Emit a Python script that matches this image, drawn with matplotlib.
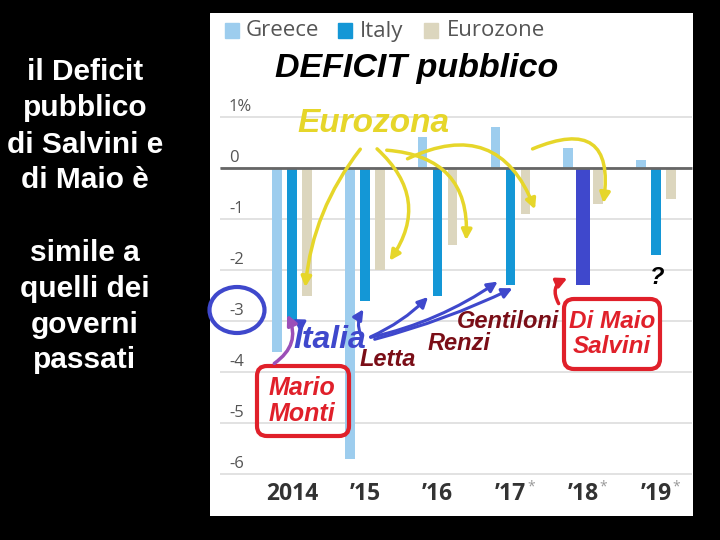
import numpy as np
import matplotlib.pyplot as plt
from matplotlib.patches import FancyBboxPatch, Ellipse, FancyArrowPatch, Rectangle

# ---------------- data ----------------
YEARS     = ["2014", "\u201915", "\u201916", "\u201917", "\u201918", "\u201919"]
STARRED   = [False, False, False, True, True, True]
GREECE    = [-3.6, -5.7, 0.6, 0.8, 0.4, 0.15]
ITALY     = [-3.0, -2.6, -2.5, -2.3, -2.3, -1.7]
EUROZONE  = [-2.5, -2.0, -1.5, -0.9, -0.7, -0.6]
Y_TICKS   = [1, 0, -1, -2, -3, -4, -5, -6]
Y_LABELS  = ["1%", "0", "-1", "-2", "-3", "-4", "-5", "-6"]
SERIES    = ["Greece", "Italy", "Eurozone"]

LEFT_TEXT = ["il Deficit", "pubblico", "di Salvini e", "di Maio \u00e8", "",
             "simile a", "quelli dei", "governi", "passati"]

# ---------------- style ----------------
C_GREECE = "#9DCDEE"
C_ITALY  = "#1497D6"
C_EURO   = "#DCD6BE"
C_ITALY18 = "#3F48CC"
C_YELLOW = "#E6D62A"
C_BLUE   = "#3F48CC"
C_RED    = "#E0202A"
C_DARKRED = "#7A0E17"
C_PURPLE = "#9B4FB8"

W, H = 720, 540
fig = plt.figure(figsize=(7.2, 5.4), dpi=100, facecolor="black")

# chart panel (white)
px0, px1, py0, py1 = 210, 693, 13, 516
ax = fig.add_axes([px0 / W, 1 - py1 / H, (px1 - px0) / W, (py1 - py0) / H])
ax.set_facecolor("white")
GX, GS = 292, 72.8      # pixel of first group, pixels per group
YZ, YS = 168, 51        # pixel of zero line, pixels per unit
ax.set_xlim((px0 - GX) / GS, (px1 - GX) / GS)
ax.set_ylim((YZ - py1) / YS, (YZ - py0) / YS)
ax.axis("off")
ax.add_patch(Rectangle((0, 0), 1, 1, transform=ax.transAxes, color="white", zorder=0))

x = np.arange(len(YEARS))
bw, off = 0.13, 0.206
gx0, gx1 = (220 - GX) / GS, (692 - GX) / GS

for t in Y_TICKS:
    ax.hlines(t, gx0, gx1, color="#dddddd", lw=1.2, zorder=1)
ax.hlines(0, gx0, gx1, color="#666666", lw=2, zorder=3)

ax.bar(x - off, GREECE, bw, color=C_GREECE, zorder=2)
italy_cols = [C_ITALY] * len(YEARS)
italy_cols[4] = C_ITALY18
widths = [bw] * len(YEARS)
widths[4] = 0.19
ax.bar(x, ITALY, widths, color=italy_cols, zorder=2)
ax.bar(x + off, EUROZONE, bw, color=C_EURO, zorder=2)

for t, lab in zip(Y_TICKS, Y_LABELS):
    ax.text((229 - GX) / GS, t + 0.2, lab, ha="left", va="center",
            fontsize=12, color="#555555", family="Open Sans", zorder=4)

for xi, lab, star in zip(x, YEARS, STARRED):
    ax.text(xi, (YZ - 494) / YS, lab, ha="center", va="center",
            fontsize=16.5, color="#333333", family="Open Sans", weight="bold")
    if star:
        ax.text(xi + 0.28, (YZ - 487) / YS, "*", ha="center", va="center",
                fontsize=10, color="#999999", family="Open Sans")

# ---------------- overlay in pixel coords ----------------
ov = fig.add_axes([0, 0, 1, 1], facecolor="none")
ov.set_xlim(0, W)
ov.set_ylim(H, 0)
ov.axis("off")

# left text
ys = [72, 108, 145, 180, 216, 253, 289, 325, 360]
for yy, line in zip(ys, LEFT_TEXT):
    ov.text(85, yy, line, ha="center", va="center", color="white",
            fontsize=21.5, family="Liberation Sans", weight="bold")

# legend
leg_x = [(225, 246), (338, 360), (424, 447)]
for (sx, tx_), name, col in zip(leg_x, SERIES, [C_GREECE, C_ITALY, C_EURO]):
    ov.add_patch(Rectangle((sx, 23), 14, 15, color=col))
    ov.text(tx_, 31, name, ha="left", va="center", fontsize=16,
            color="#555555", family="Open Sans")

ov.text(275, 68, "DEFICIT pubblico", ha="left", va="center", fontsize=24.5,
        family="Liberation Sans", weight="bold", style="italic", color="black")
ov.text(297, 123, "Eurozona", ha="left", va="center", fontsize=24,
        family="Liberation Sans", weight="bold", style="italic", color=C_YELLOW)

# hand-drawn arrows
def arrow(p0, p1, col, rad, lw=2.5, hw=6):
    a = FancyArrowPatch(p0, p1, connectionstyle=f"arc3,rad={rad}",
                        arrowstyle=f"-|>,head_width={hw/2},head_length={hw}",
                        color=col, lw=lw, zorder=5)
    ov.add_patch(a)

arrow((362, 147), (305, 290), C_YELLOW, 0.15)
arrow((375, 147), (388, 263), C_YELLOW, -0.45)
arrow((384, 150), (466, 243), C_YELLOW, -0.5)
arrow((405, 160), (536, 212), C_YELLOW, -0.55)
arrow((530, 150), (603, 206), C_YELLOW, -0.9)

# Italia + blue arrows
ov.text(293, 340, "Italia", ha="left", va="center", fontsize=23,
        family="Liberation Sans", weight="bold", style="italic", color=C_BLUE)
arrow((300, 330), (290, 318), C_BLUE, 0.3, lw=2.2)
arrow((362, 338), (365, 307), C_BLUE, -0.3, lw=2.2)
arrow((368, 338), (430, 295), C_BLUE, 0.1, lw=2.2)
arrow((368, 338), (500, 280), C_BLUE, 0.1, lw=2.2)
arrow((372, 340), (515, 287), C_BLUE, 0.05, lw=2.2)
ov.add_patch(Ellipse((237, 310), 55, 46, fill=False, ec=C_BLUE, lw=3))

# government names
for tx_, ty, name in [(360, 360, "Letta"), (428, 343, "Renzi"), (457, 321, "Gentiloni")]:
    ov.text(tx_, ty, name, ha="left", va="center", fontsize=17,
            family="Liberation Sans", weight="bold", style="italic", color=C_DARKRED)

ov.add_patch(FancyBboxPatch((257, 366), 92, 70, boxstyle="round,pad=0,rounding_size=10",
                            fill=False, ec=C_RED, lw=3, zorder=4))
ov.text(302, 401, "Mario\nMonti", ha="center", va="center", fontsize=18,
        linespacing=1.12, family="Liberation Sans", weight="bold", style="italic",
        color=C_RED, zorder=6)
arrow((272, 365), (286, 312), C_PURPLE, 0.45, lw=2.5)

ov.add_patch(FancyBboxPatch((564, 299), 96, 70, boxstyle="round,pad=0,rounding_size=10",
                            fill=True, fc="white", ec=C_RED, lw=3, zorder=4))
ov.text(612, 334, "Di Maio\nSalvini", ha="center", va="center", fontsize=17.5,
        linespacing=1.12, family="Liberation Sans", weight="bold", style="italic",
        color=C_RED, zorder=6)
arrow((560, 306), (570, 277), C_RED, -0.6, lw=2.5)

ov.text(657, 278, "?", ha="center", va="center", fontsize=17,
        family="Liberation Sans", weight="bold", style="italic", color="black")

fig.savefig("out.png", dpi=100, facecolor="black")
